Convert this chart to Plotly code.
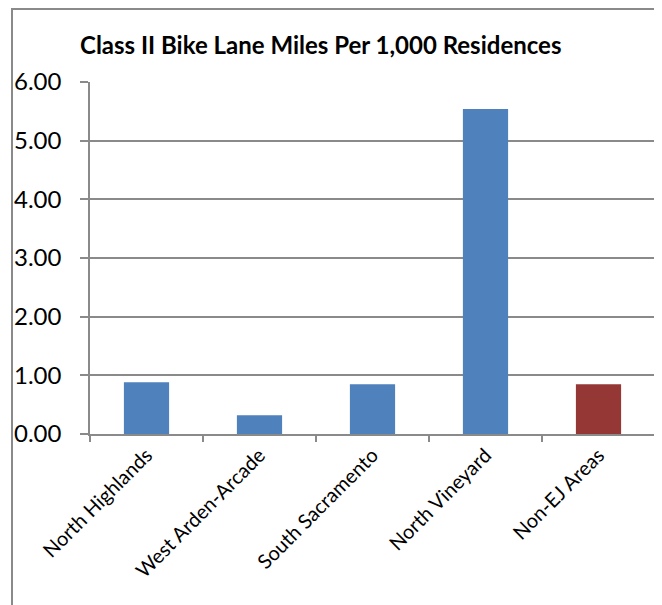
import plotly.graph_objects as go

categories = ["North Highlands", "West Arden-Arcade", "South Sacramento", "North Vineyard", "Non-EJ Areas"]
values = [0.88, 0.32, 0.85, 5.54, 0.85]
bar_colors = ["#4F81BD", "#4F81BD", "#4F81BD", "#4F81BD", "#953735"]
title_text = "Class II Bike Lane Miles Per 1,000 Residences"

GRID = "#8a8a8a"
FONT = "Lato"

# page has an 8px body margin, so the figure is sized to fit the window
W, H = 654, 597
L, R, T, B = 82, 7, 74, 171
PW = W - L - R
PH = H - T - B

fig = go.Figure(
    go.Bar(
        x=categories,
        y=values,
        marker=dict(color=bar_colors, line=dict(width=0)),
        width=0.4,
    )
)

fig.update_layout(
    width=W,
    height=H,
    margin=dict(l=L, r=R, t=T, b=B, autoexpand=False),
    paper_bgcolor="white",
    plot_bgcolor="white",
    showlegend=False,
    font=dict(family=FONT, color="black"),
    title=dict(
        text="<b>" + title_text + "</b>",
        font=dict(family=FONT, size=24, color="black"),
        xref="container",
        yref="container",
        x=72 / W,
        xanchor="left",
        y=1 - 38 / H,
        yanchor="middle",
    ),
    bargap=0.6,
)

fig.update_yaxes(
    range=[0, 6],
    dtick=1,
    tickformat=".2f",
    showgrid=True,
    gridcolor=GRID,
    gridwidth=1.5,
    showline=True,
    linecolor=GRID,
    linewidth=1.5,
    ticks="outside",
    ticklen=8,
    tickcolor=GRID,
    tickwidth=1.5,
    ticklabelstandoff=14,
    tickfont=dict(family=FONT, size=24, color="black"),
    zeroline=False,
    automargin=False,
    fixedrange=True,
)

fig.update_xaxes(
    showline=True,
    linecolor=GRID,
    linewidth=1.5,
    ticks="outside",
    tickson="boundaries",
    ticklen=6,
    tickcolor=GRID,
    tickwidth=1.5,
    tickangle=-45,
    tickfont=dict(family=FONT, size=20, color="black"),
    showgrid=False,
    automargin=False,
    fixedrange=True,
)

# outer chart border
fig.add_shape(
    type="rect",
    xref="paper",
    yref="paper",
    x0=(4 - L) / PW,
    x1=1.0,
    y0=-(B + 10) / PH,
    y1=1 + (T - 1) / PH,
    line=dict(color=GRID, width=2),
    fillcolor="rgba(0,0,0,0)",
    layer="below",
)

fig.write_html("out.html")
